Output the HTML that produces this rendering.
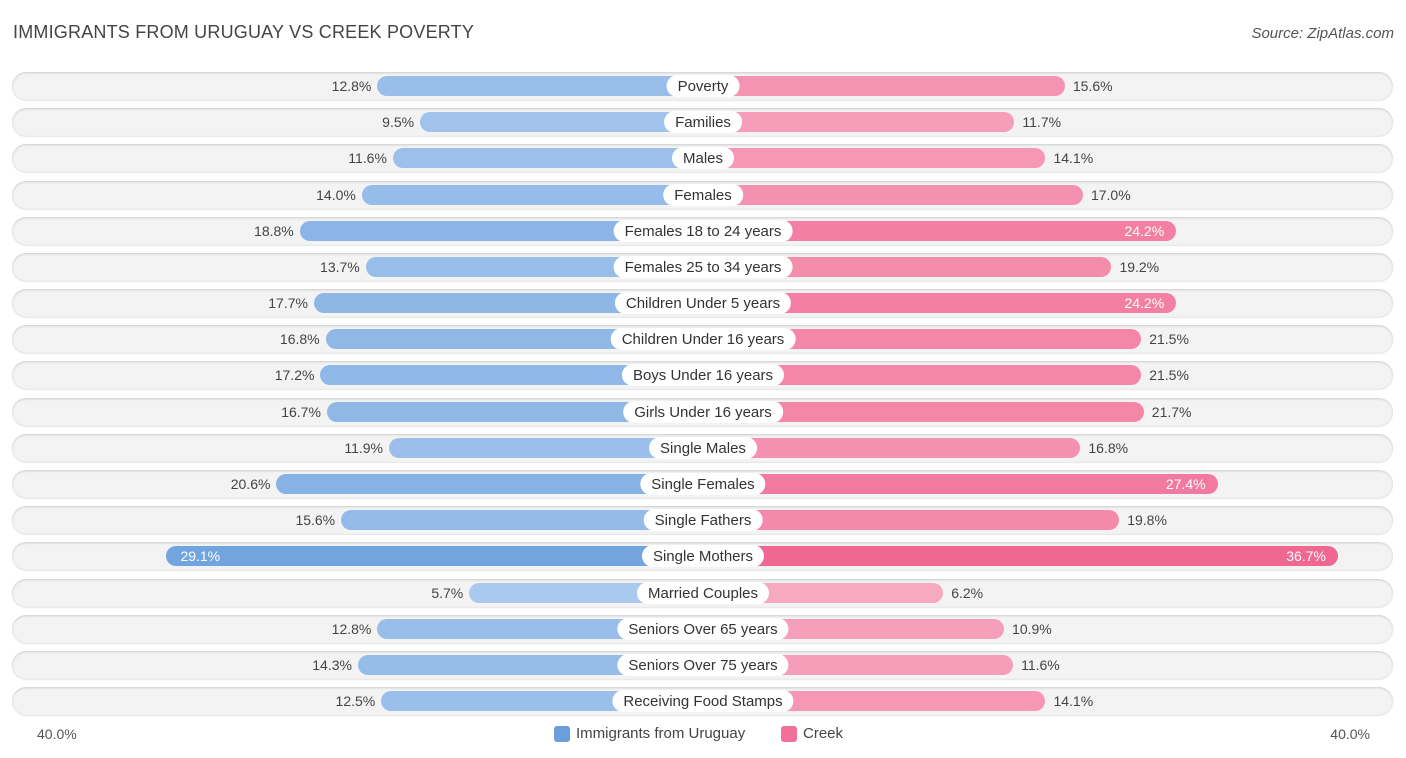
<!DOCTYPE html>
<html><head><meta charset="utf-8"><style>
body{margin:0;background:#fff;font-family:"Liberation Sans",sans-serif;}
#c{position:relative;width:1406px;height:758px;overflow:hidden}
.t{position:absolute;left:13px;top:22px;font-size:18px;color:#444;letter-spacing:0.2px}
.s{position:absolute;right:12px;top:25px;font-size:15px;color:#555;font-style:italic}
.row{position:absolute;left:12px;width:1381px;height:28px;border-radius:14px;background:#f3f3f3;box-shadow:0 1px 2px rgba(0,0,0,.16) inset,0 1px 1px rgba(0,0,0,.10)}
.bar{position:absolute;height:20px;border-radius:10px}
.lab{position:absolute;height:22px;line-height:24px;padding:0 11px;background:#fff;border-radius:11px;font-size:15px;color:#333;transform:translateX(-50%);white-space:nowrap}
.v{position:absolute;font-size:14px;color:#444;line-height:21px}
.vi{color:#fff}
.ax{position:absolute;top:726px;font-size:14px;color:#555}
.lg{position:absolute;top:725px;font-size:15px;color:#444;display:flex;align-items:center;gap:6px}
.sw{width:16px;height:16px;border-radius:3px}
</style></head><body>
<div id="c">
<div class="t">IMMIGRANTS FROM URUGUAY VS CREEK POVERTY</div>
<div class="s">Source: ZipAtlas.com</div>
<div class="ax" style="left:37px">40.0%</div>
<div class="ax" style="right:36px">40.0%</div>
<div class="lg" style="left:554px"><div class="sw" style="background:#6a9fdc"></div>Immigrants from Uruguay</div>
<div class="lg" style="left:781px"><div class="sw" style="background:#f07099"></div>Creek</div>
</div>
<script>
const categories=["Poverty","Families","Males","Females","Females 18 to 24 years","Females 25 to 34 years","Children Under 5 years","Children Under 16 years","Boys Under 16 years","Girls Under 16 years","Single Males","Single Females","Single Fathers","Single Mothers","Married Couples","Seniors Over 65 years","Seniors Over 75 years","Receiving Food Stamps"];
const uruguay=[12.8,9.5,11.6,14.0,18.8,13.7,17.7,16.8,17.2,16.7,11.9,20.6,15.6,29.1,5.7,12.8,14.3,12.5];
const creek=[15.6,11.7,14.1,17.0,24.2,19.2,24.2,21.5,21.5,21.7,16.8,27.4,19.8,36.7,6.2,10.9,11.6,14.1];
const C=703,OFF=160,K=12.94;
function xlen(v){return OFF+K*v;}
function yc(i){return 86+i*36.18;}
function mix(a,b,t){return a.map((x,j)=>Math.round(x+(b[j]-x)*t));}
function col(v,lo,hi){const t=Math.max(0,Math.min(1,(v-5)/30));const c=mix(lo,hi,t);return `rgb(${c.join(',')})`;}
const root=document.getElementById('c');
categories.forEach((cat,i)=>{
 const y=yc(i);
 const r=document.createElement('div');r.className='row';r.style.top=(y-14)+'px';
 
 root.appendChild(r);
 const u=uruguay[i],k=creek[i];
 const lb=document.createElement('div');lb.className='bar';
 const lw=xlen(u);lb.style.left=(C-lw)+'px';lb.style.width=lw+'px';lb.style.top=(y-10)+'px';
 lb.style.background=col(u,[172,202,238],[100,156,220]);
 
 root.appendChild(lb);
 const rb=document.createElement('div');rb.className='bar';
 const rw=xlen(k);rb.style.left=C+'px';rb.style.width=rw+'px';rb.style.top=(y-10)+'px';
 rb.style.background=col(k,[248,172,196],[240,104,146]);
 
 root.appendChild(rb);
 const lv=document.createElement('div');lv.className='v';lv.textContent=u.toFixed(1)+'%';lv.style.top=(y-10)+'px';
 if(u>22){lv.classList.add('vi');lv.style.left=(C-lw+14)+'px';}else{lv.style.right=(1406-(C-lw)+6)+'px';}
 
 root.appendChild(lv);
 const rv=document.createElement('div');rv.className='v';rv.textContent=k.toFixed(1)+'%';rv.style.top=(y-10)+'px';
 if(k>22){rv.classList.add('vi');rv.style.right=(1406-(C+rw)+12)+'px';}else{rv.style.left=(C+rw+8)+'px';}
 
 root.appendChild(rv);
 const l=document.createElement('div');l.className='lab';l.textContent=cat;l.style.left=C+'px';l.style.top=(y-11)+'px';
 
 root.appendChild(l);
});
</script>
</body></html>
